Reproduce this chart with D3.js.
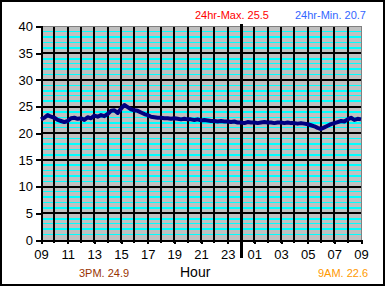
<!DOCTYPE html>
<html>
<head>
<meta charset="utf-8">
<script src="https://cdn.jsdelivr.net/npm/d3@7"></script>
<style>
  body { margin: 0; background: #fff; }
  svg { display: block; font-family: "Liberation Sans", Arial, sans-serif; }
</style>
</head>
<body>
<svg id="chart"></svg>
<script>
// hour labels shown under the axis, every 2 hours starting at 09
var hourLabels = ["09", "11", "13", "15", "17", "19", "21", "23", "01", "03", "05", "07", "09"];
var yTicks = [0, 5, 10, 15, 20, 25, 30, 35, 40];

// temperature, one reading every 15 minutes from 09:00 to 09:00 next day
var temps = [
  22.6, 22.9, 23.4, 23.1,
  22.9, 22.5, 22.3, 22.1,
  22.3, 22.8, 22.9, 22.7,
  22.8, 22.5, 23.0, 22.8,
  23.3, 23.1, 23.4, 23.2,
  23.6, 24.2, 24.3, 23.8,
  24.6, 25.3, 24.9, 24.5,
  24.3, 24.2, 23.9, 23.6,
  23.4, 23.1, 23.0, 22.9,
  22.9, 22.8, 22.8, 22.7,
  22.8, 22.7, 22.6, 22.7,
  22.6, 22.6, 22.5, 22.6,
  22.4, 22.5, 22.4, 22.3,
  22.3, 22.2, 22.3, 22.2,
  22.2, 22.1, 22.2, 22.0,
  22.0, 21.9, 22.1, 22.0,
  22.0, 21.9, 22.0, 22.1,
  22.0, 22.0, 21.9, 22.0,
  22.0, 21.9, 22.0, 21.9,
  21.9, 21.8, 21.9, 21.8,
  21.7, 21.5, 21.3, 21.0,
  20.8, 21.1, 21.4, 21.7,
  21.9, 22.1, 22.3, 22.2,
  22.6, 22.9, 22.5, 22.7,
  22.6
];

var maxText = "24hr-Max. 25.5";
var minText = "24hr-Min. 20.7";
var peakText = "3PM. 24.9";
var nowText = "9AM. 22.6";

var width = 385, height = 286;
var plotLeft = 41, plotRight = 361, plotTop = 26.5, plotBottom = 240;

var svg = d3.select("#chart").attr("width", width).attr("height", height);

// outer frame
svg.append("rect")
  .attr("x", 1).attr("y", 1)
  .attr("width", width - 2).attr("height", height - 2)
  .attr("fill", "#fff").attr("stroke", "#000").attr("stroke-width", 2);

var x = d3.scaleLinear().domain([0, 24]).range([plotLeft, plotRight]);
var y = d3.scaleLinear().domain([0, 40]).range([plotBottom, plotTop]);

// plot background
svg.append("rect")
  .attr("x", x(0)).attr("y", y(40))
  .attr("width", x(24) - x(0)).attr("height", y(0) - y(40))
  .attr("fill", "#c0c0c0").attr("stroke", "#808080")
  .attr("shape-rendering", "crispEdges");

// cyan minor lines every degree
svg.append("g").attr("shape-rendering", "crispEdges").selectAll("line")
  .data(d3.range(1, 40).filter(function(d) { return d % 5 != 0; }))
  .enter().append("line")
  .attr("x1", x(0)).attr("x2", x(24))
  .attr("y1", function(d) { return y(d); })
  .attr("y2", function(d) { return y(d); })
  .attr("stroke", "#00ffff")
  .attr("stroke-width", function(d) { return d % 2 == 0 ? 2 : 1; });

// black lines every 5 degrees
svg.append("g").attr("shape-rendering", "crispEdges").selectAll("line")
  .data(yTicks.filter(function(d) { return d > 0 && d < 40; }))
  .enter().append("line")
  .attr("x1", x(0)).attr("x2", x(24))
  .attr("y1", function(d) { return y(d); })
  .attr("y2", function(d) { return y(d); })
  .attr("stroke", "#000").attr("stroke-width", 2);

// black vertical lines every hour
svg.append("g").attr("shape-rendering", "crispEdges").selectAll("line")
  .data(d3.range(1, 24))
  .enter().append("line")
  .attr("x1", function(d) { return x(d); })
  .attr("x2", function(d) { return x(d); })
  .attr("y1", y(40)).attr("y2", y(0) + 3)
  .attr("stroke", "#000").attr("stroke-width", 2);

// midnight marker
svg.append("line")
  .attr("x1", x(15)).attr("x2", x(15))
  .attr("y1", y(40) - 3).attr("y2", y(0) + 18)
  .attr("stroke", "#000").attr("stroke-width", 3)
  .attr("shape-rendering", "crispEdges");

// axes
var yAxis = d3.axisLeft(y).tickValues(yTicks).tickSize(5).tickPadding(3);
var gy = svg.append("g").attr("transform", "translate(" + plotLeft + ",0)")
  .attr("shape-rendering", "crispEdges").call(yAxis);
gy.select(".domain").attr("stroke", "#000").attr("stroke-width", 2);
gy.selectAll(".tick line").attr("stroke-width", 2);
gy.selectAll("text").attr("font-size", 13).attr("fill", "#000").attr("font-family", null);

var xAxis = d3.axisBottom(x)
  .tickValues(d3.range(0, 25, 2))
  .tickFormat(function(d, i) { return hourLabels[i]; })
  .tickSize(4).tickPadding(6);
var gx = svg.append("g").attr("transform", "translate(0," + plotBottom + ")")
  .attr("shape-rendering", "crispEdges").call(xAxis);
gx.select(".domain").attr("stroke", "#000").attr("stroke-width", 2);
gx.selectAll(".tick line").attr("stroke-width", 2);
gx.selectAll("text").attr("font-size", 13).attr("fill", "#000").attr("font-family", null);

// temperature line
var line = d3.line()
  .x(function(d, i) { return x(i / 4); })
  .y(function(d) { return y(d); });

svg.append("path")
  .datum(temps)
  .attr("d", line)
  .attr("fill", "none")
  .attr("stroke", "#000080")
  .attr("stroke-width", 4)
  .attr("stroke-linejoin", "round");

// annotations
svg.append("text").attr("x", 195).attr("y", 19).attr("font-size", 11)
  .attr("fill", "#ff0000").text(maxText);
svg.append("text").attr("x", 295).attr("y", 19).attr("font-size", 11)
  .attr("fill", "#3366ff").text(minText);
svg.append("text").attr("x", 79).attr("y", 277).attr("font-size", 11)
  .attr("fill", "#993300").text(peakText);
svg.append("text").attr("x", 180).attr("y", 277).attr("font-size", 14)
  .attr("fill", "#000").text("Hour");
svg.append("text").attr("x", 318).attr("y", 277).attr("font-size", 11)
  .attr("fill", "#ff9900").text(nowText);
</script>
</body>
</html>
